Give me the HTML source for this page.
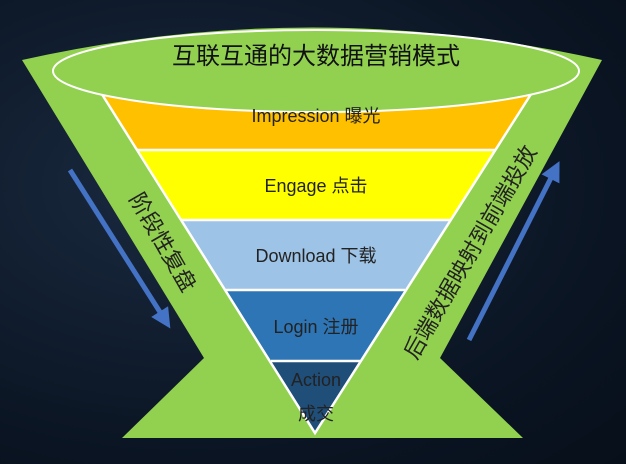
<!DOCTYPE html>
<html><head><meta charset="utf-8"><style>
html,body{margin:0;padding:0;width:626px;height:464px;overflow:hidden;background:radial-gradient(ellipse at 30% 40%,#1a2a40,#0a1422 70%,#070f1a);}
svg{display:block}
text{font-family:"Liberation Sans","Noto Sans CJK SC",sans-serif;}
</style></head><body>
<svg width="626" height="464" viewBox="0 0 626 464" xmlns="http://www.w3.org/2000/svg">
<defs>
<marker id="ah" markerWidth="4" markerHeight="4" refX="2" refY="2" orient="auto" markerUnits="strokeWidth"><path d="M0,0 L4,2 L0,4 z" fill="#4472C4"/></marker>
</defs>
<path d="M22,60 Q312,-5 602,60 L440,358 L523,438 L122,438 L204,358 Z" fill="#92D050"/>
<!-- funnel bands -->
<path d="M93,80 L540,80 L495,150 L137,150 Z" fill="#FFC000"/>
<path d="M137,150 L495,150 L450,220 L181,220 Z" fill="#FFFF00"/>
<path d="M181,220 L450,220 L405,290 L226,290 Z" fill="#9DC3E6"/>
<path d="M226,290 L405,290 L360,361 L271,361 Z" fill="#2E75B6"/>
<path d="M271,361 L360,361 L315,433 Z" fill="#1F4E79"/>
<g stroke="#fff" stroke-width="2.5" fill="none">
<path d="M93,80 L315,433 L540,80"/>
<line x1="137" y1="150" x2="495" y2="150"/>
<line x1="181" y1="220" x2="450" y2="220"/>
<line x1="226" y1="290" x2="405" y2="290"/>
<line x1="271" y1="361" x2="360" y2="361"/>
</g>
<ellipse cx="316" cy="71" rx="263" ry="41" fill="#92D050" stroke="#fff" stroke-width="2"/>
<text x="316" y="64" font-size="24" text-anchor="middle" fill="#111">互联互通的大数据营销模式</text>
<g font-size="18" text-anchor="middle" fill="#222">
<text x="316" y="122">Impression 曝光</text>
<text x="316" y="192">Engage 点击</text>
<text x="316" y="262">Download 下载</text>
<text x="316" y="333">Login 注册</text>
<text x="316" y="386">Action</text>
<text x="316" y="420">成交</text>
</g>
<text transform="translate(163,242) rotate(60)" font-size="22" text-anchor="middle" fill="#222" dy="8">阶段性复盘</text>
<text transform="translate(470,252) rotate(-60)" font-size="22" text-anchor="middle" fill="#222" dy="8">后端数据映射到前端投放</text>
<line x1="70" y1="170" x2="165" y2="320" stroke="#4472C4" stroke-width="5" marker-end="url(#ah)"/>
<line x1="469" y1="340" x2="555" y2="170" stroke="#4472C4" stroke-width="5" marker-end="url(#ah)"/>
</svg>
</body></html>
